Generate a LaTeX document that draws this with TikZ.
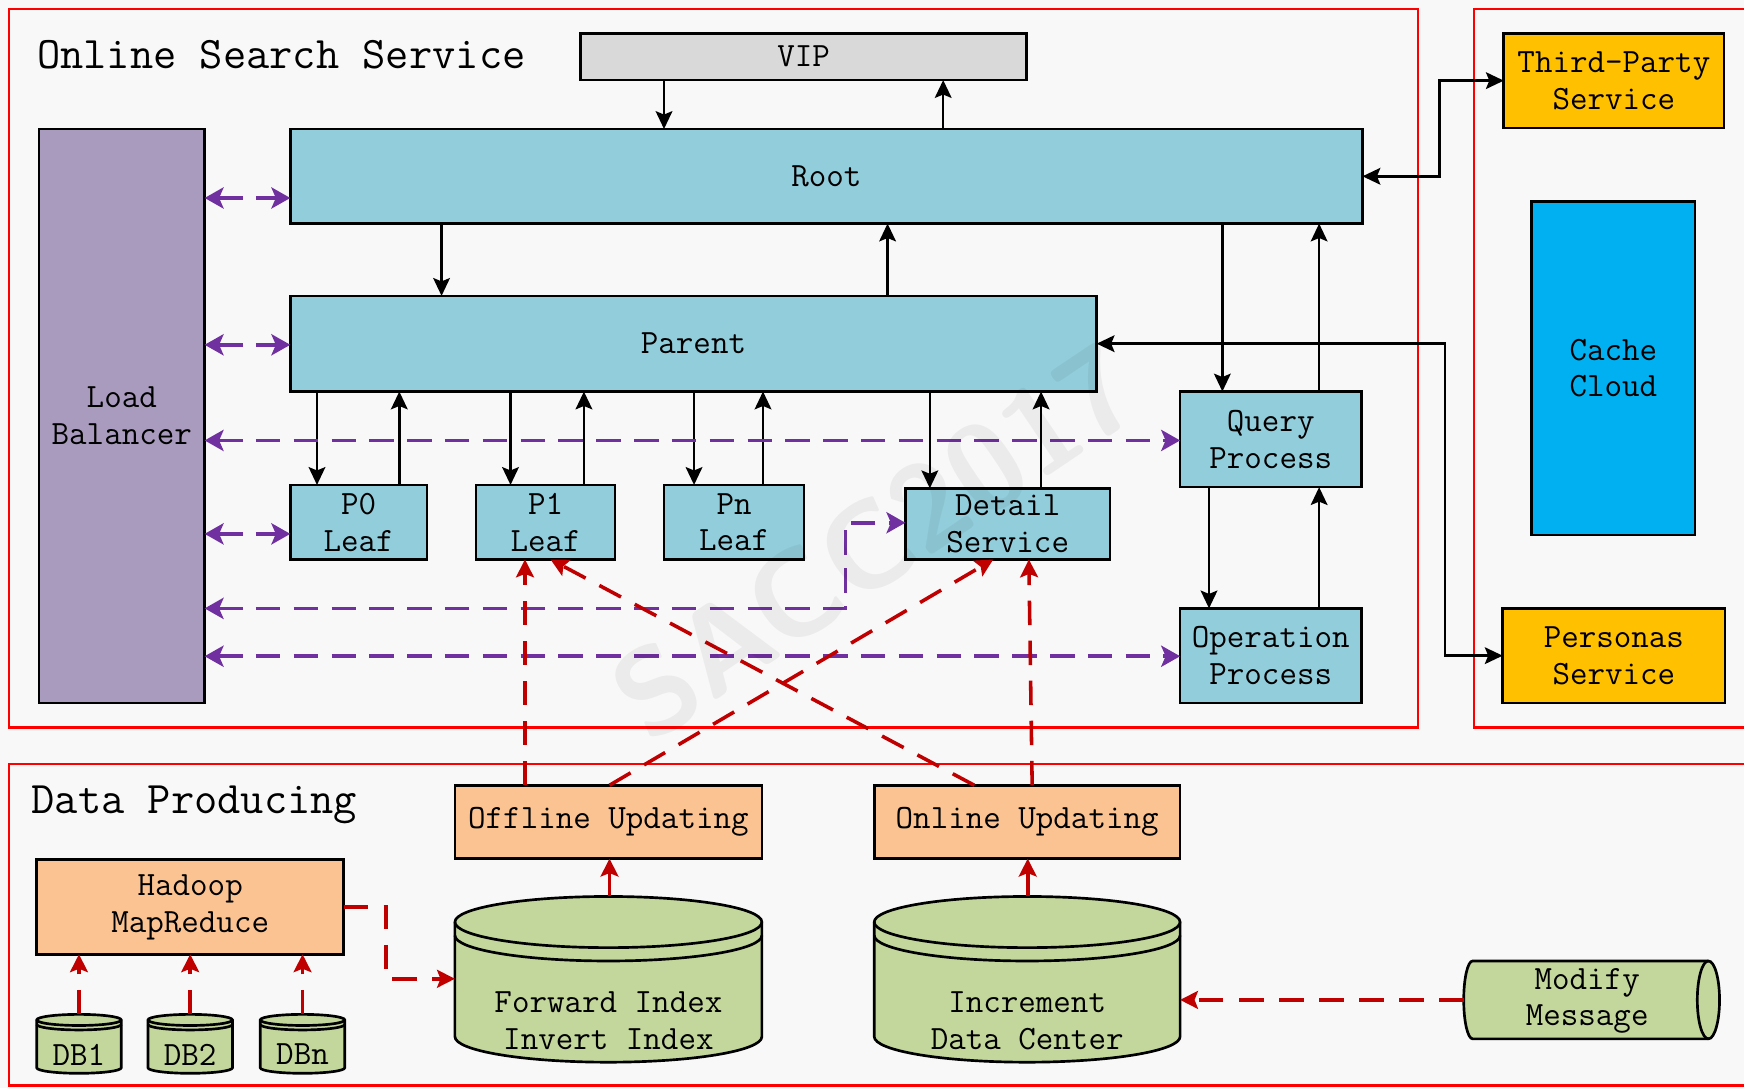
\documentclass[tikz,border=0pt]{standalone}
\usetikzlibrary{arrows.meta}
\definecolor{bgc}{HTML}{F8F8F8}
\definecolor{boxblue}{HTML}{92CDDC}
\definecolor{lbc}{HTML}{A99BBE}
\definecolor{vipc}{HTML}{D9D9D9}
\definecolor{yel}{HTML}{FFC000}
\definecolor{cyanc}{HTML}{00B0F0}
\definecolor{peach}{HTML}{FAC391}
\definecolor{grn}{HTML}{C3D69B}
\definecolor{purp}{HTML}{7030A0}
\definecolor{dred}{HTML}{C00000}
\definecolor{fred}{HTML}{FF0000}
\newcommand\mynf{\ttfamily\fontsize{15.3}{16.5}\selectfont}
\newcommand\mytf{\ttfamily\fontsize{20.3}{24}\selectfont}
\newcommand\mycyl[8]{%
  \draw[cylsty] (#1,#2+#5) -- (#1,#4-#5) arc[start angle=180,end angle=360,x radius=#6,y radius=#7] -- (#3,#2+#5) arc[start angle=0,end angle=180,x radius=#6,y radius=#7] -- cycle;
  \draw[cylsty,fill=none] (#1,#2+#5) arc[start angle=180,end angle=360,x radius=#6,y radius=#7];
  \draw[cylsty,fill=none] (#1,#2+#5+#8) arc[start angle=180,end angle=360,x radius=#6,y radius=#7];}
\begin{document}
\begin{tikzpicture}[x=0.5pt,y=-0.5pt,
  bx/.style={draw=black,line width=1.2pt,inner sep=0pt,outer sep=0pt,align=center,font=\mynf},
  bluebox/.style={bx,fill=boxblue},
  blk/.style={draw=black,line width=1.15pt,-{Stealth[length=8pt,width=7.5pt,inset=1.5pt]}},
  blk2/.style={draw=black,line width=1.15pt,{Stealth[length=8pt,width=7.5pt,inset=1.5pt]}-{Stealth[length=8pt,width=7.5pt,inset=1.5pt]}},
  pur/.style={draw=purp,line width=1.6pt,dash pattern=on 11pt off 6pt,{Stealth[length=8.5pt,width=9.5pt,inset=2pt]}-{Stealth[length=8.5pt,width=9.5pt,inset=2pt]}},
  rdash/.style={draw=dred,line width=1.6pt,dash pattern=on 11pt off 7pt,-{Stealth[length=8pt,width=8pt,inset=1.5pt]}},
  rsolid/.style={draw=dred,line width=1.6pt,-{Stealth[length=8pt,width=8pt,inset=1.5pt]}},
  frame/.style={draw=fred,line width=1pt},
  cylsty/.style={draw=black,line width=1.2pt,fill=grn},
  hold/.style={inner sep=0pt,outer sep=0pt},
  txt/.style={font=\mynf,align=center,inner sep=0pt}
]
\useasboundingbox (0,0) rectangle (1568,978);
\clip (0,0) rectangle (1568,978);
\fill[bgc] (0,0) rectangle (1568,978);

% frames
\draw[frame] (8,8) rectangle (1275,654);
\draw[frame] (1325,8) rectangle (1620,654);
\draw[frame] (8,687) rectangle (1620,976);

% titles
\node[anchor=base west,font=\mytf,inner sep=0pt] (t1) at (33,62) {Online Search Service};
\node[anchor=base west,font=\mytf,inner sep=0pt] (t2) at (28,731) {Data Producing};

% online search boxes
\node[bx,fill=vipc,minimum width=200.5pt,minimum height=21pt] (vip) at (722.5,51) {VIP};
\node[bluebox,minimum width=482pt,minimum height=42.5pt] (root) at (743,158.5) {Root};
\node[bluebox,minimum width=362.5pt,minimum height=43pt] (parent) at (623.5,309) {Parent};
\node[bx,fill=lbc,minimum width=74.5pt,minimum height=258pt] (lb) at (109.5,374) {Load\\Balancer};
\node[bluebox,minimum width=61.5pt,minimum height=33.5pt] (p0) at (322.5,469.5) {P0\\Leaf};
\node[bluebox,minimum width=62.5pt,minimum height=33.5pt] (p1) at (490.5,469.5) {P1\\Leaf};
\node[bluebox,minimum width=63pt,minimum height=33.5pt] (pn) at (660,469.5) {Pn\\Leaf};
\node[bluebox,minimum width=92pt,minimum height=32pt] (detail) at (906,471) {Detail\\Service};
\node[bluebox,minimum width=81.5pt,minimum height=43pt] (query) at (1142.5,395) {Query\\Process};
\node[bluebox,minimum width=81.5pt,minimum height=42.5pt] (oper) at (1142.5,589.5) {Operation\\Process};
\node[bx,fill=yel,minimum width=99pt,minimum height=42.5pt] (third) at (1451,72.5) {Third-Party\\Service};
\node[bx,fill=cyanc,minimum width=73.5pt,minimum height=150pt] (cache) at (1450.5,331) {Cache\\Cloud};
\node[bx,fill=yel,minimum width=100pt,minimum height=42.5pt] (personas) at (1451,589.5) {Personas\\Service};

% data producing boxes
\node[bx,fill=peach,minimum width=138pt,minimum height=33pt] (offline) at (547,739) {Offline Updating};
\node[bx,fill=peach,minimum width=137.5pt,minimum height=33pt] (online) at (923.5,739) {Online Updating};
\node[bx,fill=peach,minimum width=138pt,minimum height=42.5pt] (hadoop) at (171,815.5) {Hadoop\\MapReduce};

% cylinders
\mycyl{409}{806}{685}{955}{23}{69pt}{11.5pt}{12}
\mycyl{786}{806}{1061}{955}{23}{68.75pt}{11.5pt}{12}
\mycyl{33}{912}{109}{965}{5}{19pt}{2.5pt}{4}
\mycyl{133}{912}{209}{965}{5}{19pt}{2.5pt}{4}
\mycyl{234}{912}{310}{965}{5}{19pt}{2.5pt}{4}
\node[hold,minimum width=138pt,minimum height=74.5pt] (fwd) at (547,880.5) {};
\node[hold,minimum width=137.5pt,minimum height=74.5pt] (incr) at (923.5,880.5) {};
\node[hold,minimum width=38pt,minimum height=26.5pt] (db1) at (71,938.5) {};
\node[hold,minimum width=38pt,minimum height=26.5pt] (db2) at (171,938.5) {};
\node[hold,minimum width=38pt,minimum height=26.5pt] (dbn) at (272,938.5) {};
\node[txt] (fwdt) at (547,917.5) {Forward Index\\Invert Index};
\node[txt] (incrt) at (923.5,917.5) {Increment\\Data Center};
\node[txt] (db1t) at (71,948) {DB1};
\node[txt] (db2t) at (171,948) {DB2};
\node[txt] (dbnt) at (272,948) {DBn};

% modify message
\draw[cylsty] (1324,864) -- (1536,864) arc[start angle=90,end angle=-90,x radius=5pt,y radius=17.5pt] -- (1324,934) arc[start angle=270,end angle=90,x radius=4pt,y radius=17.5pt] -- cycle;
\draw[cylsty,fill=none] (1536,864) arc[start angle=90,end angle=270,x radius=5pt,y radius=17.5pt];
\node[hold,minimum width=115pt,minimum height=35pt] (modify) at (1431,899) {};
\node[txt] (modt) at (1427,900) {Modify\\Message};

% black arrows
\draw[blk] (597,0 |- vip.south) -- (597,0 |- root.north);
\draw[blk] (848,0 |- root.north) -- (848,0 |- vip.south);
\draw[blk] (397,0 |- root.south) -- (397,0 |- parent.north);
\draw[blk] (798,0 |- parent.north) -- (798,0 |- root.south);
\draw[blk] (1099,0 |- root.south) -- (1099,0 |- query.north);
\draw[blk] (1186,0 |- query.north) -- (1186,0 |- root.south);
\draw[blk2] (root.east) -- (1294,0 |- root.east) -- (1294,0 |- third.west) -- (third.west);
\draw[blk2] (parent.east) -- (1299,0 |- parent.east) -- (1299,0 |- personas.west) -- (personas.west);
\draw[blk] (285,0 |- parent.south) -- (285,0 |- p0.north);
\draw[blk] (359,0 |- p0.north) -- (359,0 |- parent.south);
\draw[blk] (459,0 |- parent.south) -- (459,0 |- p1.north);
\draw[blk] (525,0 |- p1.north) -- (525,0 |- parent.south);
\draw[blk] (624,0 |- parent.south) -- (624,0 |- pn.north);
\draw[blk] (686,0 |- pn.north) -- (686,0 |- parent.south);
\draw[blk] (836,0 |- parent.south) -- (836,0 |- detail.north);
\draw[blk] (936,0 |- detail.north) -- (936,0 |- parent.south);
\draw[blk] (1087,0 |- query.south) -- (1087,0 |- oper.north);
\draw[blk] (1186,0 |- oper.north) -- (1186,0 |- query.south);

% purple dashed
\draw[pur] (lb.east |- 0,178) -- (root.west |- 0,178);
\draw[pur] (lb.east |- 0,310) -- (parent.west |- 0,310);
\draw[pur] (lb.east |- 0,396) -- (query.west |- 0,396);
\draw[pur] (lb.east |- 0,480) -- (p0.west |- 0,480);
\draw[pur] (lb.east |- 0,547) -- (760,547) -- (760,470) -- (detail.west |- 0,470);
\draw[pur] (lb.east |- 0,590) -- (oper.west |- 0,590);

% red
\draw[rdash] (472,0 |- offline.north) -- (472,0 |- p1.south);
\draw[rdash] (548,0 |- offline.north) -- (893,0 |- detail.south);
\draw[rdash] (876,0 |- online.north) -- (495,0 |- p1.south);
\draw[rdash] (928,0 |- online.north) -- (925,0 |- detail.south);
\draw[rsolid] (548,0 |- fwd.north) -- (548,0 |- offline.south);
\draw[rsolid] (924,0 |- incr.north) -- (924,0 |- online.south);
\draw[rdash] (hadoop.east) -- (347,0 |- hadoop.east) -- (347,880) -- (fwd.west |- 0,880);
\draw[rdash] (db1.north) -- (db1.north |- hadoop.south);
\draw[rdash] (db2.north) -- (db2.north |- hadoop.south);
\draw[rdash] (dbn.north) -- (dbn.north |- hadoop.south);
\draw[rdash] (modify.west) -- (incr.east |- modify.west);

% watermark
\node[rotate=34,text=black,opacity=0.05,font=\sffamily\bfseries\fontsize{55}{55}\selectfont] (wm) at (787,487) {SACC2017};
\end{tikzpicture}
\end{document}
